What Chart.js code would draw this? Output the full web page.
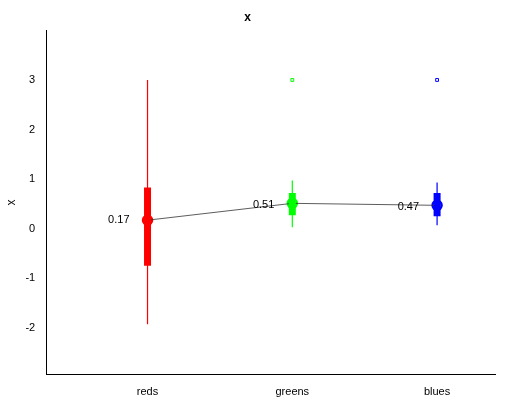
<!DOCTYPE html>
<html><head>
<script src="https://cdn.jsdelivr.net/npm/chart.js@4"></script>
<style>body{margin:0;background:#fff}#c{width:505px;height:404px}</style>
</head><body>
<div id="c"><canvas id="chart"></canvas></div>
<script>
const categories = ["reds", "greens", "blues"];
const colors = ["#ff0000", "#00ff00", "#0000ff"];
const whiskerLow = [-1.93, 0.03, 0.07];
const whiskerHigh = [3.0, 0.97, 0.93];
const boxLow = [-0.75, 0.27, 0.25];
const boxHigh = [0.83, 0.72, 0.72];
const medians = [0.17, 0.51, 0.47];
const outliers = [null, 3.0, 3.0];

const datasets = [];
categories.forEach((c, i) => {
  const x = i + 1;
  datasets.push({type: "line", data: [{x, y: whiskerLow[i]}, {x, y: whiskerHigh[i]}],
    borderColor: colors[i], borderWidth: 1.2, pointRadius: 0});
  datasets.push({type: "line", data: [{x, y: boxLow[i]}, {x, y: boxHigh[i]}],
    borderColor: colors[i], borderWidth: 7, pointRadius: 0, borderCapStyle: "butt"});
  if (outliers[i] !== null) {
    datasets.push({type: "scatter", data: [{x, y: outliers[i]}], pointStyle: "rect",
      pointRadius: 2, borderColor: colors[i], backgroundColor: "#fff", borderWidth: 1});
  }
});
datasets.push({type: "line", data: medians.map((m, i) => ({x: i + 1, y: m})),
  borderColor: "#333", borderWidth: 0.8, pointRadius: 0});
datasets.push({type: "scatter", data: medians.map((m, i) => ({x: i + 1, y: m})),
  pointRadius: 4.5, borderWidth: 2.5, backgroundColor: "#fff", borderColor: colors});

const labelPlugin = {
  id: "labels",
  afterDatasetsDraw(chart) {
    const ctx = chart.ctx, xs = chart.scales.x, ys = chart.scales.y;
    ctx.save();
    ctx.font = "11px Arial, 'Liberation Sans'";
    ctx.fillStyle = "#000";
    ctx.textAlign = "right";
    ctx.textBaseline = "middle";
    medians.forEach((m, i) => {
      ctx.fillText(m.toFixed(2), xs.getPixelForValue(i + 1) - 18, ys.getPixelForValue(m) + (i ? 2 : 0));
    });
    ctx.restore();
  }
};

new Chart(document.getElementById("chart"), {
  data: {datasets},
  plugins: [labelPlugin],
  options: {
    responsive: true, maintainAspectRatio: false, animation: false,
    layout: {padding: {right: 10, top: 0, bottom: 2}},
    plugins: {legend: {display: false}, tooltip: {enabled: false},
      title: {display: true, text: "x", color: "#000", font: {size: 12, weight: "bold", family: "Arial, 'Liberation Sans'"}, padding: {top: 10, bottom: 6}}},
    scales: {
      x: {type: "linear", min: 0.3, max: 3.4,
        afterBuildTicks: (s) => { s.ticks = categories.map((c, i) => ({value: i + 1})); },
        ticks: {callback: (v) => categories[v - 1], color: "#000", font: {size: 11, family: "Arial, 'Liberation Sans'"}},
        grid: {display: false, drawTicks: true}, border: {color: "#000"}},
      y: {min: -2.95, max: 4,
        afterBuildTicks: (s) => { s.ticks = [-2, -1, 0, 1, 2, 3].map(v => ({value: v})); },
        ticks: {color: "#000", font: {size: 11, family: "Arial, 'Liberation Sans'"}},
        title: {display: true, text: "x", color: "#000", font: {size: 12, family: "Arial, 'Liberation Sans'"}},
        grid: {display: false}, border: {color: "#000"}}
    }
  }
});
</script>
</body></html>
